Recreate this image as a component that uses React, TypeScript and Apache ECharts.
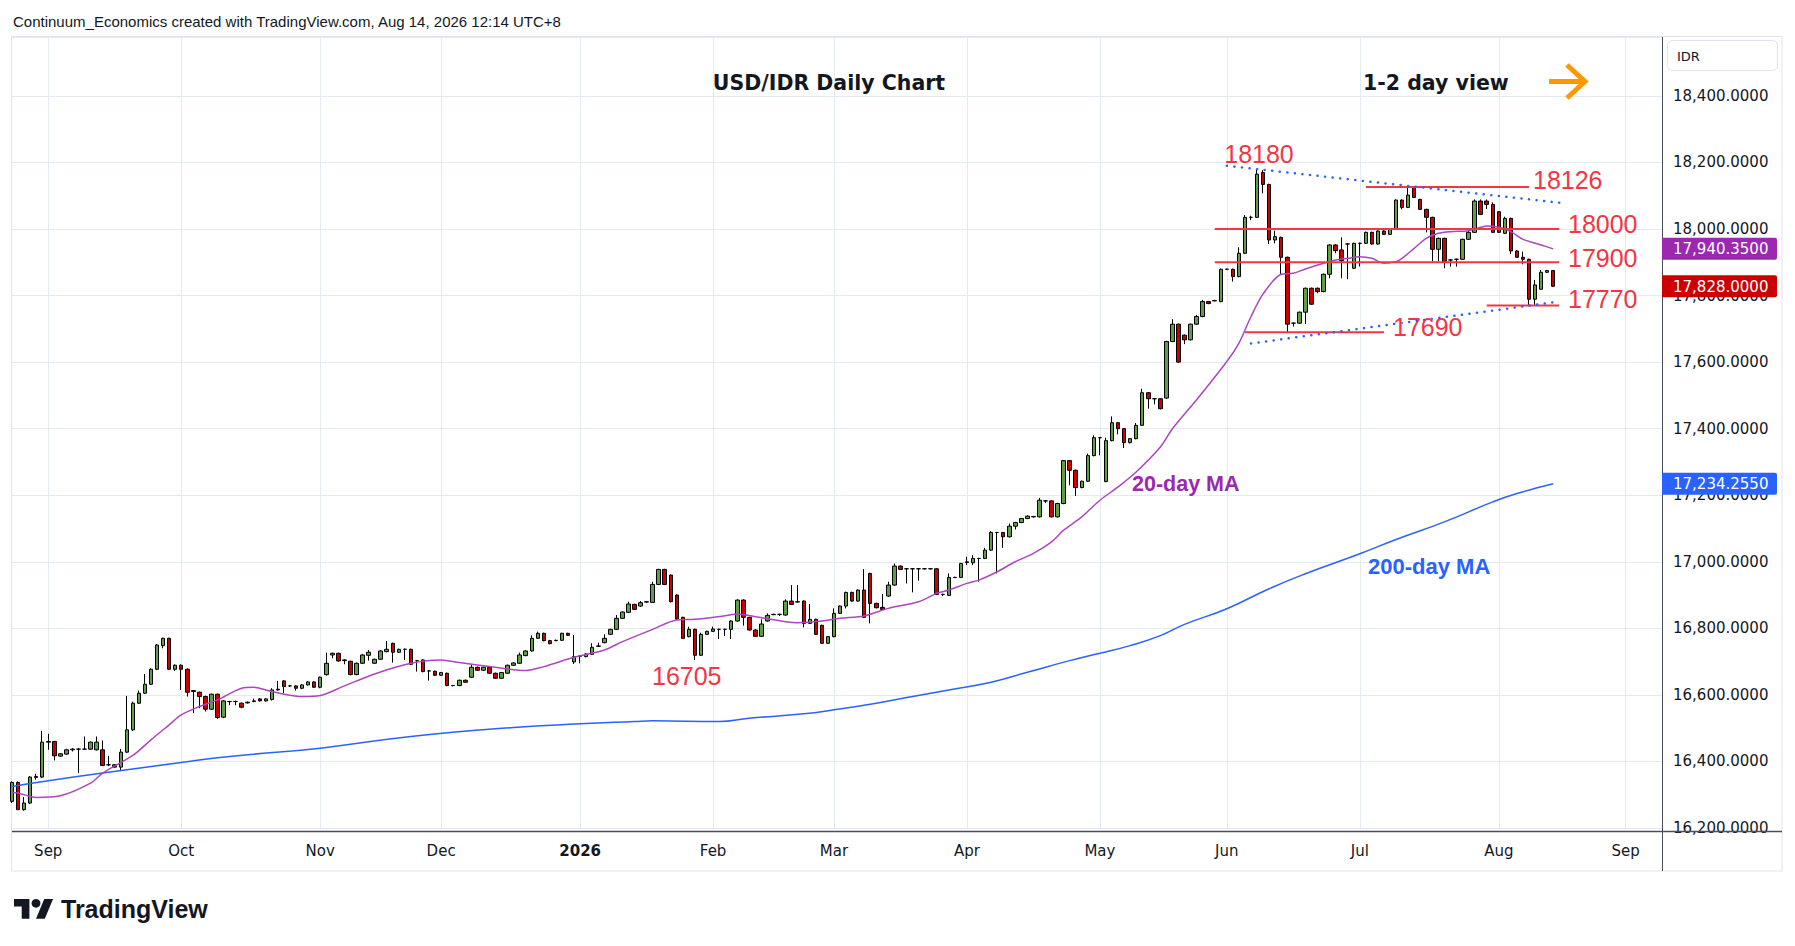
import React, { useEffect, useRef } from 'react';
import * as echarts from 'echarts';

type OHLC = [number, number, number, number]; // open, close, low, high

const aug2025: OHLC[] = [
  [16280, 16337, 16275, 16340], [16337, 16255, 16255, 16340], [16255, 16275, 16252, 16293],
  [16275, 16353, 16272, 16356], [16352, 16355, 16345, 16363], [16353, 16458, 16350, 16492],
];
const sep2025: OHLC[] = [
  [16458, 16460, 16435, 16483], [16460, 16417, 16403, 16462], [16416, 16423, 16414, 16425],
  [16422, 16435, 16420, 16438], [16435, 16437, 16430, 16440], [16437, 16437, 16365, 16440],
  [16437, 16437, 16435, 16475], [16437, 16458, 16435, 16460], [16435, 16458, 16433, 16475],
  [16435, 16388, 16386, 16463], [16390, 16390, 16386, 16417], [16390, 16383, 16380, 16392],
  [16383, 16428, 16373, 16438], [16428, 16495, 16425, 16597], [16495, 16575, 16492, 16580],
  [16575, 16605, 16573, 16613], [16605, 16632, 16603, 16663], [16632, 16677, 16630, 16680],
  [16677, 16750, 16675, 16753], [16748, 16770, 16740, 16772], [16770, 16677, 16675, 16772],
  [16677, 16689, 16672, 16692],
];
const oct2025: OHLC[] = [
  [16689, 16677, 16615, 16692], [16677, 16608, 16595, 16680], [16610, 16613, 16545, 16615],
  [16608, 16595, 16560, 16610], [16595, 16557, 16550, 16598], [16557, 16602, 16555, 16604],
  [16602, 16532, 16528, 16604], [16533, 16582, 16530, 16584], [16580, 16580, 16569, 16582],
  [16580, 16580, 16569, 16583], [16575, 16563, 16560, 16577], [16576, 16578, 16574, 16580],
  [16580, 16582, 16578, 16589], [16588, 16582, 16580, 16590], [16582, 16588, 16580, 16590],
  [16586, 16615, 16583, 16620], [16615, 16617, 16613, 16642], [16642, 16625, 16605, 16644],
  [16627, 16627, 16624, 16630], [16627, 16620, 16613, 16629], [16620, 16630, 16617, 16632],
  [16630, 16639, 16628, 16641], [16639, 16623, 16621, 16641],
];
const nov2025: OHLC[] = [
  [16623, 16653, 16620, 16655], [16661, 16695, 16658, 16727], [16720, 16725, 16710, 16727],
  [16725, 16702, 16700, 16727], [16703, 16705, 16692, 16707], [16701, 16661, 16659, 16703],
  [16661, 16695, 16659, 16697], [16695, 16720, 16693, 16723], [16719, 16728, 16703, 16735],
  [16695, 16707, 16693, 16709], [16707, 16732, 16705, 16734], [16730, 16737, 16728, 16762],
  [16755, 16728, 16697, 16757], [16728, 16737, 16726, 16739], [16737, 16737, 16705, 16739],
  [16737, 16692, 16690, 16739], [16703, 16703, 16670, 16705], [16705, 16670, 16668, 16707],
  [16672, 16672, 16643, 16674], [16671, 16659, 16657, 16673],
];
const dec2025: OHLC[] = [
  [16659, 16667, 16657, 16669], [16665, 16628, 16626, 16667], [16628, 16628, 16626, 16630],
  [16628, 16644, 16626, 16646], [16644, 16638, 16636, 16646], [16653, 16683, 16651, 16693],
  [16683, 16674, 16672, 16685], [16674, 16683, 16672, 16685], [16683, 16665, 16663, 16685],
  [16665, 16650, 16648, 16667], [16650, 16667, 16648, 16669], [16665, 16689, 16663, 16691],
  [16689, 16696, 16687, 16698], [16695, 16720, 16693, 16727], [16718, 16732, 16716, 16734],
  [16732, 16770, 16730, 16779], [16770, 16785, 16768, 16790], [16785, 16763, 16761, 16787],
  [16763, 16754, 16752, 16765], [16763, 16764, 16761, 16766], [16764, 16785, 16762, 16787],
  [16785, 16779, 16777, 16787], [16699, 16715, 16693, 16780],
];
const jan2026: OHLC[] = [
  [16716, 16717, 16695, 16719], [16715, 16723, 16713, 16725], [16722, 16743, 16720, 16755],
  [16746, 16747, 16744, 16757], [16757, 16770, 16755, 16782], [16782, 16797, 16780, 16799],
  [16797, 16830, 16795, 16840], [16830, 16849, 16828, 16851], [16848, 16873, 16846, 16880],
  [16872, 16857, 16855, 16874], [16867, 16877, 16865, 16882], [16879, 16880, 16877, 16882],
  [16878, 16932, 16876, 16940], [16932, 16977, 16930, 16979], [16977, 16932, 16930, 16979],
  [16960, 16880, 16878, 16962], [16900, 16828, 16826, 16902], [16833, 16770, 16768, 16835],
  [16775, 16797, 16773, 16805], [16797, 16719, 16705, 16799], [16719, 16782, 16717, 16787],
  [16782, 16791, 16780, 16793],
];
const feb2026: OHLC[] = [
  [16791, 16798, 16789, 16805], [16797, 16797, 16768, 16799], [16797, 16797, 16777, 16799],
  [16797, 16822, 16768, 16824], [16822, 16885, 16820, 16887], [16885, 16833, 16808, 16887],
  [16833, 16795, 16793, 16835], [16795, 16776, 16774, 16797], [16776, 16813, 16774, 16827],
  [16822, 16839, 16820, 16845], [16841, 16842, 16840, 16844], [16842, 16842, 16837, 16844],
  [16840, 16882, 16838, 16887], [16882, 16872, 16870, 16930], [16879, 16880, 16878, 16930],
  [16882, 16815, 16803, 16884], [16815, 16827, 16813, 16873], [16827, 16782, 16780, 16829],
  [16809, 16755, 16753, 16811], [16755, 16775, 16753, 16777],
];
const mar2026: OHLC[] = [
  [16775, 16845, 16773, 16860], [16845, 16867, 16843, 16869], [16867, 16908, 16860, 16910],
  [16908, 16882, 16880, 16910], [16882, 16915, 16880, 16917], [16915, 16833, 16831, 16978],
  [16965, 16875, 16815, 16967], [16875, 16862, 16860, 16877], [16863, 16857, 16855, 16903],
  [16897, 16930, 16895, 16940], [16930, 16987, 16928, 16995], [16987, 16977, 16975, 16989],
  [16979, 16979, 16935, 16981], [16979, 16979, 16908, 16981], [16979, 16979, 16943, 16981],
  [16979, 16979, 16977, 16981], [16979, 16979, 16977, 16981], [16979, 16902, 16900, 16981],
  [16902, 16902, 16897, 16904], [16899, 16953, 16897, 16965], [16953, 16953, 16951, 16955],
  [16953, 16995, 16951, 16997],
];
const apr2026: OHLC[] = [
  [16998, 17000, 16990, 17015], [16997, 17010, 16990, 17020], [17010, 17010, 16940, 17012],
  [17010, 17035, 17008, 17042], [17035, 17088, 17033, 17092], [17088, 17088, 16965, 17090],
  [17088, 17075, 17042, 17090], [17075, 17107, 17073, 17115], [17107, 17118, 17097, 17120],
  [17118, 17130, 17116, 17132], [17130, 17137, 17128, 17140], [17135, 17136, 17133, 17138],
  [17135, 17185, 17133, 17192], [17183, 17183, 17177, 17185], [17183, 17135, 17133, 17185],
  [17135, 17175, 17133, 17177], [17175, 17304, 17173, 17306], [17304, 17275, 17230, 17306],
  [17275, 17223, 17198, 17277], [17223, 17242, 17221, 17244], [17242, 17319, 17240, 17325],
  [17319, 17373, 17317, 17380],
];
const may2026: OHLC[] = [
  [17373, 17373, 17320, 17375], [17241, 17364, 17239, 17373], [17364, 17418, 17362, 17437],
  [17418, 17400, 17383, 17420], [17400, 17358, 17342, 17402], [17358, 17370, 17356, 17372],
  [17370, 17410, 17368, 17417], [17410, 17508, 17408, 17520], [17508, 17490, 17460, 17510],
  [17490, 17490, 17473, 17492], [17490, 17460, 17458, 17492], [17492, 17662, 17490, 17664],
  [17662, 17714, 17660, 17729], [17714, 17600, 17598, 17716], [17681, 17667, 17654, 17683],
  [17667, 17714, 17665, 17716], [17714, 17737, 17712, 17742], [17737, 17782, 17735, 17787],
  [17782, 17776, 17774, 17784], [17784, 17785, 17783, 17787], [17782, 17879, 17780, 17881],
];
const jun2026: OHLC[] = [
  [17879, 17879, 17877, 17881], [17879, 17857, 17842, 17881], [17857, 17927, 17855, 17945],
  [17927, 18035, 17925, 18042], [18035, 18035, 18027, 18040], [18035, 18165, 18033, 18180],
  [18170, 18134, 18107, 18177], [18134, 17967, 17955, 18136], [17967, 17977, 17957, 17995],
  [17975, 17915, 17865, 17977], [17915, 17714, 17690, 17917], [17717, 17717, 17707, 17719],
  [17717, 17750, 17715, 17752], [17750, 17822, 17714, 17824], [17822, 17774, 17772, 17824],
  [17822, 17812, 17807, 17824], [17812, 17864, 17810, 17866], [17864, 17952, 17852, 17954],
  [17952, 17935, 17927, 17954], [17937, 17905, 17852, 17975], [17955, 17955, 17849, 17957],
  [17882, 17957, 17880, 17959],
];
const jul2026: OHLC[] = [
  [17957, 17957, 17887, 17959], [17957, 17990, 17955, 17992], [17990, 17955, 17953, 17992],
  [17955, 17994, 17953, 17996], [17994, 17984, 17982, 17996], [17984, 18000, 17982, 18002],
  [18000, 18087, 17998, 18089], [18087, 18065, 18059, 18089], [18065, 18102, 18063, 18126],
  [18125, 18095, 18093, 18127], [18089, 18059, 18057, 18091], [18059, 18035, 17990, 18061],
  [18035, 17939, 17902, 18037], [17939, 17972, 17902, 17974], [17972, 17902, 17882, 17974],
  [17907, 17907, 17887, 17909], [17909, 17909, 17887, 17911], [17909, 17969, 17907, 17971],
  [17969, 17990, 17967, 18000], [17990, 18084, 17988, 18089], [18084, 18044, 18042, 18089],
  [18084, 18074, 18060, 18089], [18074, 17990, 17988, 18080],
];
const aug2026: OHLC[] = [
  [18052, 17990, 17988, 18054], [17987, 18032, 17985, 18037], [18032, 17934, 17925, 18034],
  [17934, 17915, 17913, 17936], [17915, 17909, 17894, 17932], [17909, 17789, 17772, 17911],
  [17789, 17832, 17772, 17847], [17819, 17870, 17817, 17877], [17870, 17875, 17868, 17877],
  [17875, 17828, 17826, 17877],
];

// 20-day moving average
const ma20Points: [string, number][] = [
  ['2025-08-22', 16307], ['2025-08-25', 16305], ['2025-08-28', 16292], ['2025-09-03', 16297],
  ['2025-09-10', 16335], ['2025-09-12', 16365], ['2025-09-19', 16418], ['2025-09-24', 16465],
  ['2025-09-29', 16510], ['2025-10-01', 16540], ['2025-10-06', 16565], ['2025-10-09', 16585],
  ['2025-10-15', 16620], ['2025-10-17', 16623], ['2025-10-21', 16615], ['2025-10-24', 16602],
  ['2025-10-29', 16595], ['2025-11-03', 16598], ['2025-11-07', 16627], ['2025-11-14', 16663],
  ['2025-11-24', 16695], ['2025-12-01', 16705], ['2025-12-04', 16697], ['2025-12-12', 16683],
  ['2025-12-19', 16673], ['2025-12-24', 16685], ['2025-12-31', 16713], ['2026-01-07', 16735],
  ['2026-01-12', 16760], ['2026-01-19', 16797], ['2026-01-23', 16825], ['2026-01-28', 16827],
  ['2026-02-04', 16838], ['2026-02-06', 16843], ['2026-02-11', 16835], ['2026-02-18', 16820],
  ['2026-02-20', 16817], ['2026-02-26', 16822], ['2026-03-03', 16830], ['2026-03-09', 16837],
  ['2026-03-13', 16860], ['2026-03-20', 16880], ['2026-03-25', 16905], ['2026-03-27', 16915],
  ['2026-04-01', 16935], ['2026-04-03', 16945], ['2026-04-08', 16970], ['2026-04-13', 17000],
  ['2026-04-16', 17025], ['2026-04-21', 17060], ['2026-04-23', 17095], ['2026-04-28', 17135],
  ['2026-05-01', 17185], ['2026-05-06', 17225], ['2026-05-11', 17270], ['2026-05-15', 17345],
  ['2026-05-19', 17400], ['2026-05-25', 17487], ['2026-06-01', 17602], ['2026-06-03', 17657],
  ['2026-06-05', 17737], ['2026-06-09', 17805], ['2026-06-12', 17864], ['2026-06-16', 17867],
  ['2026-06-18', 17880], ['2026-06-23', 17897], ['2026-06-25', 17907], ['2026-06-29', 17912],
  ['2026-07-01', 17917], ['2026-07-03', 17912], ['2026-07-07', 17897], ['2026-07-09', 17902],
  ['2026-07-10', 17912], ['2026-07-14', 17942], ['2026-07-16', 17972], ['2026-07-20', 17987],
  ['2026-07-22', 17992], ['2026-07-27', 17995], ['2026-07-29', 18005], ['2026-07-30', 18009],
  ['2026-08-03', 18005], ['2026-08-05', 17992], ['2026-08-07', 17969], ['2026-08-12', 17952],
  ['2026-08-14', 17940.35],
];

// 200-day moving average
const ma200Points: [string, number][] = [
  ['2025-08-22', 16325], ['2025-09-01', 16342], ['2025-09-12', 16365], ['2025-10-01', 16397],
  ['2025-10-13', 16415], ['2025-11-03', 16440], ['2025-11-24', 16475], ['2025-12-17', 16502],
  ['2026-01-01', 16513], ['2026-01-14', 16520], ['2026-01-19', 16522], ['2026-02-03', 16520],
  ['2026-02-10', 16530], ['2026-02-23', 16543], ['2026-03-02', 16555], ['2026-03-11', 16575],
  ['2026-03-19', 16595], ['2026-03-27', 16615], ['2026-04-07', 16638], ['2026-04-15', 16668],
  ['2026-04-24', 16703], ['2026-05-01', 16725], ['2026-05-08', 16748], ['2026-05-15', 16778],
  ['2026-05-21', 16812], ['2026-06-01', 16859], ['2026-06-10', 16919], ['2026-06-18', 16964],
  ['2026-07-01', 17024], ['2026-07-09', 17067], ['2026-07-21', 17120], ['2026-07-31', 17180],
  ['2026-08-06', 17205], ['2026-08-14', 17234.255],
];

// horizontal support / resistance levels
const levelLines: { value: number; from: string; to: string }[] = [
  { value: 18126, from: '2026-07-02', to: '2026-08-10' },
  { value: 18000, from: '2026-05-28', to: '2026-08-17' },
  { value: 17900, from: '2026-05-28', to: '2026-08-17' },
  { value: 17770, from: '2026-07-30', to: '2026-08-17' },
  { value: 17690, from: '2026-06-04', to: '2026-07-07' },
];
// dotted trend lines
const trendLines: { from: [string, number]; to: [string, number] }[] = [
  { from: ['2026-06-01', 18190], to: ['2026-08-17', 18079] },
  { from: ['2026-06-05', 17656], to: ['2026-08-17', 17782] },
];

const monthNames = ['Jan', 'Feb', 'Mar', 'Apr', 'May', 'Jun', 'Jul', 'Aug', 'Sep', 'Oct', 'Nov', 'Dec'];
const yTicks = [16200, 16400, 16600, 16800, 17000, 17200, 17400, 17600, 17800, 18000, 18200, 18400];

function weekdays(start: string, end: string): string[] {
  const out: string[] = [];
  const d = new Date(start + 'T00:00:00Z');
  const e = new Date(end + 'T00:00:00Z');
  while (d <= e) {
    const wd = d.getUTCDay();
    if (wd !== 0 && wd !== 6) out.push(d.toISOString().slice(0, 10));
    d.setUTCDate(d.getUTCDate() + 1);
  }
  return out;
}

const categories = weekdays('2025-08-22', '2026-09-09');
const candles: OHLC[] = [
  ...aug2025, ...sep2025, ...oct2025, ...nov2025, ...dec2025, ...jan2026, ...feb2026,
  ...mar2026, ...apr2026, ...may2026, ...jun2026, ...jul2026, ...aug2026,
];
const idx = (d: string) => categories.indexOf(d);
const monthStarts = new Set<number>();
categories.forEach((c, i) => {
  if (i > 0 && c.slice(5, 7) !== categories[i - 1].slice(5, 7)) monthStarts.add(i);
});

const fmt = (v: number) =>
  v.toLocaleString('en-US', { minimumFractionDigits: 4, maximumFractionDigits: 4 });

const RED = '#F23645';
const GRID = '#e4eaf1';
const TEXT = '#131722';
const AXIS_FONT = '"DejaVu Sans", sans-serif';

const TV_PATH = 'M14 22H7V11H0V4h14v18zM28 22h-8l7.5-18h8L28 22z';
let registered = false;

export default function App() {
  const ref = useRef<HTMLDivElement>(null);
  useEffect(() => {
    document.body.style.margin = '0';
    if (!registered) {
      echarts.graphic.registerShape('tvlogo', echarts.graphic.extendPath(TV_PATH, {}) as any);
      registered = true;
    }
    const chart = echarts.init(ref.current!, undefined, { renderer: 'svg' });

    const lastClose = candles[candles.length - 1][1];
    const ma20Last = ma20Points[ma20Points.length - 1][1];
    const ma200Last = ma200Points[ma200Points.length - 1][1];

    const series: any[] = [
      {
        type: 'candlestick',
        data: candles,
        barWidth: 4,
        z: 3,
        itemStyle: {
          color: '#5f9e47',
          color0: '#cc0000',
          borderColor: '#000000',
          borderColor0: '#000000',
          borderColorDoji: '#000000',
          borderWidth: 1,
        },
        silent: true,
      },
      {
        type: 'line',
        data: ma200Points.map(([d, v]) => [idx(d), v]),
        symbol: 'none',
        smooth: 0.5,
        z: 4,
        lineStyle: { color: '#2962FF', width: 1.5 },
        silent: true,
      },
      {
        type: 'line',
        data: ma20Points.map(([d, v]) => [idx(d), v]),
        symbol: 'none',
        smooth: 0.3,
        z: 4,
        lineStyle: { color: '#ab47bc', width: 1.5 },
        silent: true,
      },
      ...levelLines.map((l) => ({
        type: 'line',
        data: [[idx(l.from), l.value], [idx(l.to), l.value]],
        symbol: 'none',
        z: 5,
        lineStyle: { color: RED, width: 2 },
        silent: true,
      })),
      ...trendLines.map((t) => ({
        type: 'line',
        data: [[idx(t.from[0]), t.from[1]], [idx(t.to[0]), t.to[1]]],
        symbol: 'none',
        z: 5,
        lineStyle: { color: '#2962FF', width: 2.5, type: [0.1, 7.5], cap: 'round' },
        silent: true,
      })),
    ];

    chart.setOption({
      animation: false,
      grid: { left: 12, right: 133, top: 37, bottom: 118 },
      xAxis: {
        type: 'category',
        data: categories,
        boundaryGap: false,
        axisLine: { show: false },
        axisTick: { show: false },
        splitLine: {
          show: true,
          interval: (i: number) => monthStarts.has(i),
          lineStyle: { color: GRID, width: 1 },
        },
        axisLabel: {
          interval: (i: number) => monthStarts.has(i),
          margin: 15,
          fontSize: 15,
          fontFamily: AXIS_FONT,
          color: TEXT,
          formatter: (v: string) => {
            const m = parseInt(v.slice(5, 7), 10);
            return m === 1 ? '{b|' + v.slice(0, 4) + '}' : monthNames[m - 1];
          },
          rich: { b: { fontWeight: 'bold', fontSize: 15, fontFamily: AXIS_FONT, color: TEXT } },
        },
      },
      yAxis: {
        type: 'value',
        position: 'right',
        min: 16200,
        max: 18577,
        interval: 200,
        axisLine: { show: false },
        axisTick: { show: false },
        splitLine: { show: true, lineStyle: { color: GRID, width: 1 } },
        axisLabel: {
          margin: 11,
          fontSize: 15,
          fontFamily: AXIS_FONT,
          color: TEXT,
          showMaxLabel: false,
          formatter: (v: number) => (yTicks.includes(v) ? fmt(v) : ''),
        },
      },
      series,
    });

    const yPix = (v: number) => chart.convertToPixel({ yAxisIndex: 0 }, v) as number;
    const tags = [
      { value: ma20Last, color: '#9C27B0' },
      { value: lastClose, color: '#CC0000' },
      { value: ma200Last, color: '#2962FF' },
    ];
    const tagEls: any[] = [];
    tags.forEach((t) => {
      const y = yPix(t.value);
      tagEls.push({
        type: 'rect', z: 100, silent: true,
        shape: { x: 1662, y: y - 11, width: 115, height: 22, r: [0, 2, 2, 0] },
        style: { fill: t.color },
      });
      tagEls.push({
        type: 'text', z: 101, silent: true,
        style: {
          text: fmt(t.value), x: 1673, y: y + 0.5, fill: '#ffffff',
          font: '15px "DejaVu Sans", sans-serif', align: 'left', verticalAlign: 'middle',
        },
      });
    });

    const redFont = '25px "Liberation Sans", Arial, sans-serif';
    const redText = (text: string, x: number, y: number, align = 'left') => ({
      type: 'text', z: 60, silent: true,
      style: { text, x, y, fill: RED, font: redFont, align, verticalAlign: 'middle' },
    });

    const s = 1.1;
    const lx = 14, ly = 894.5;

    const graphics: any[] = [
      {
        type: 'rect', z: 0, silent: true,
        shape: { x: 11.5, y: 36.5, width: 1770.5, height: 834.5 },
        style: { fill: 'none', stroke: '#e0e3eb', lineWidth: 1 },
      },
      {
        type: 'line', z: 50, silent: true,
        shape: { x1: 12, y1: 831.5, x2: 1782, y2: 831.5 },
        style: { stroke: '#4a4e59', lineWidth: 1.5 },
      },
      {
        type: 'line', z: 50, silent: true,
        shape: { x1: 1662.5, y1: 37, x2: 1662.5, y2: 871 },
        style: { stroke: '#4a4e59', lineWidth: 1 },
      },
      {
        type: 'text', z: 60, silent: true,
        style: {
          text: 'Continuum_Economics created with TradingView.com, Aug 14, 2026 12:14 UTC+8',
          x: 13, y: 21, fill: TEXT, font: '15px "Liberation Sans", Arial, sans-serif',
          align: 'left', verticalAlign: 'middle',
        },
      },
      {
        type: 'text', z: 60, silent: true,
        style: {
          text: 'USD/IDR Daily Chart', x: 829, y: 83, fill: TEXT,
          font: 'bold 20.5px "DejaVu Sans", sans-serif', align: 'center', verticalAlign: 'middle',
        },
      },
      {
        type: 'text', z: 60, silent: true,
        style: {
          text: '1-2 day view', x: 1363, y: 83, fill: TEXT,
          font: 'bold 20.5px "DejaVu Sans", sans-serif', align: 'left', verticalAlign: 'middle',
        },
      },
      {
        type: 'line', z: 60, silent: true,
        shape: { x1: 1549, y1: 81.5, x2: 1584, y2: 81.5 },
        style: { stroke: '#FF9800', lineWidth: 5 },
      },
      {
        type: 'polyline', z: 60, silent: true,
        shape: { points: [[1567, 65], [1585, 81.5], [1567, 98]] },
        style: { stroke: '#FF9800', lineWidth: 5, fill: 'none' },
      },
      redText('18180', 1259, 154, 'center'),
      redText('18126', 1533, 180),
      redText('18000', 1568, 224),
      redText('17900', 1568, 258),
      redText('17770', 1568, 299),
      redText('17690', 1393, 327),
      redText('16705', 652, 676),
      {
        type: 'text', z: 60, silent: true,
        style: {
          text: '20-day MA', x: 1132, y: 484, fill: '#9C27B0',
          font: 'bold 21.5px "Liberation Sans", Arial, sans-serif', align: 'left', verticalAlign: 'middle',
        },
      },
      {
        type: 'text', z: 60, silent: true,
        style: {
          text: '200-day MA', x: 1368, y: 566, fill: '#2962FF',
          font: 'bold 22px "Liberation Sans", Arial, sans-serif', align: 'left', verticalAlign: 'middle',
        },
      },
      {
        type: 'rect', z: 60, silent: true,
        shape: { x: 1667.5, y: 40.5, width: 110, height: 30, r: 5 },
        style: { fill: '#ffffff', stroke: '#e0e3eb', lineWidth: 1 },
      },
      {
        type: 'text', z: 61, silent: true,
        style: {
          text: 'IDR', x: 1677, y: 56, fill: TEXT,
          font: '13px "DejaVu Sans", sans-serif', align: 'left', verticalAlign: 'middle',
        },
      },
      {
        type: 'tvlogo', z: 60, silent: true,
        x: lx, y: ly, scaleX: s, scaleY: s,
        style: { fill: TEXT },
      },
      {
        type: 'circle', z: 60, silent: true,
        shape: { cx: lx + 20 * s, cy: ly + 8 * s, r: 4 * s },
        style: { fill: TEXT },
      },
      {
        type: 'text', z: 60, silent: true,
        style: {
          text: 'TradingView', x: 61, y: 909, fill: TEXT,
          font: 'bold 25px "Liberation Sans", Arial, sans-serif', align: 'left', verticalAlign: 'middle',
        },
      },
      ...tagEls,
    ];

    chart.setOption({ graphic: graphics });
    return () => chart.dispose();
  }, []);
  return <div ref={ref} style={{ width: 1795, height: 946 }} />;
}
